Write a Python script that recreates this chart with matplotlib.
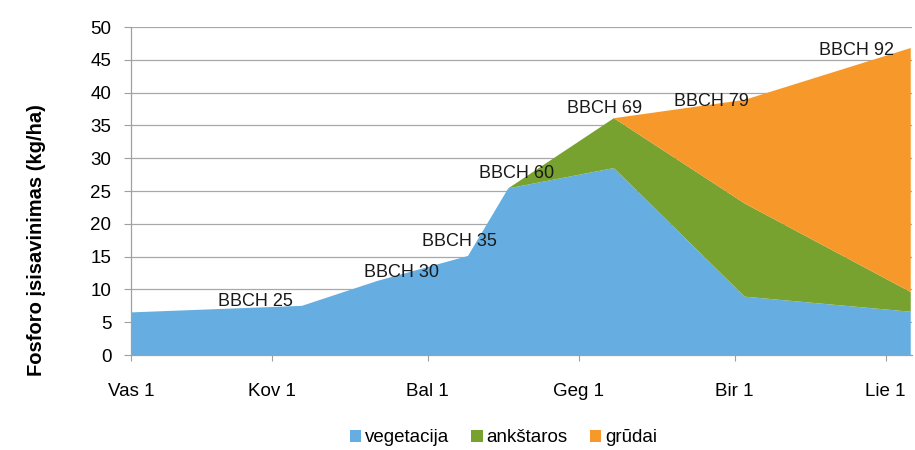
import matplotlib.pyplot as plt
import pandas as pd
from matplotlib.patches import Patch

plt.rcParams['font.family'] = ['Liberation Sans', 'DejaVu Sans']

# sampling dates (2013) and phosphorus uptake per fraction, kg/ha
dates = ['2013-02-01', '2013-03-07', '2013-03-22', '2013-04-09',
         '2013-04-17', '2013-05-08', '2013-06-03', '2013-07-06']
vegetacija = [6.5, 7.5, 11.3, 15.1, 25.4, 28.5, 8.9, 6.6]
ankstaros = [0, 0, 0, 0, 0, 7.6, 14.2, 3.0]
grudai = [0, 0, 0, 0, 0, 0, 15.8, 37.2]

series_names = ['vegetacija', 'ankštaros', 'grūdai']
colors = ['#66AEE2', '#78A22F', '#F7982A']

# growth stage labels and the point each belongs to
stage_labels = ['BBCH 25', 'BBCH 30', 'BBCH 35', 'BBCH 60', 'BBCH 69', 'BBCH 79', 'BBCH 92']
stage_idx = [1, 2, 3, 4, 5, 6, 7]
stage_offsets = [(-46, 4), (24, 8), (-9, 14), (8, 15), (-9, 10), (-33, -2), (-54, -3)]

tick_dates = ['2013-02-01', '2013-03-01', '2013-04-01', '2013-05-01', '2013-06-01', '2013-07-01']
tick_labels = ['Vas 1', 'Kov 1', 'Bal 1', 'Geg 1', 'Bir 1', 'Lie 1']

days = pd.to_datetime(pd.Series(dates)).dt.dayofyear.to_numpy()
tick_days = pd.to_datetime(pd.Series(tick_dates)).dt.dayofyear.to_numpy()

fig = plt.figure(figsize=(9.15, 4.5), dpi=100)
ax = fig.add_axes([0.143, 0.211, 0.854, 0.729])

ax.stackplot(days, vegetacija, ankstaros, grudai, colors=colors, linewidth=0, zorder=2)

# labels above the stacked totals
totals = [a + b + c for a, b, c in zip(vegetacija, ankstaros, grudai)]
for lab, i, off in zip(stage_labels, stage_idx, stage_offsets):
    ax.annotate(lab, xy=(days[i], totals[i]), xytext=off, textcoords='offset pixels',
                ha='center', va='center', fontsize=13, color='#1a1a1a', zorder=4)

ax.set_xlim(days[0], days[-1] + 0.3)
ax.set_ylim(0, 50)
ax.set_yticks(range(0, 51, 5))
ax.set_xticks(tick_days)
ax.set_xticklabels(tick_labels)

ax.grid(axis='y', color='#a8a8a8', linewidth=0.9, zorder=1)
ax.set_axisbelow(True)
for s in ['top', 'right']:
    ax.spines[s].set_visible(False)
for s in ['left', 'bottom']:
    ax.spines[s].set_color('#a0a0a0')
    ax.spines[s].set_linewidth(0.9)

ax.tick_params(axis='y', length=5, color='#a0a0a0', pad=9, labelsize=13.5)
ax.tick_params(axis='x', length=4, color='#a0a0a0', pad=16, labelsize=13.5)

ax.set_ylabel('Fosforo įsisavinimas (kg/ha)', fontsize=14.5, fontweight='bold')
ax.yaxis.set_label_coords(-0.108, 0.35)

handles = [Patch(facecolor=c, edgecolor='none') for c in colors]
fig.legend(handles, series_names, loc='center', bbox_to_anchor=(0.55, 0.027),
           ncol=3, frameon=False, fontsize=13.5, handlelength=0.6, handleheight=0.6,
           handletextpad=0.2, columnspacing=1.2)

fig.savefig('out.png', dpi=100)
